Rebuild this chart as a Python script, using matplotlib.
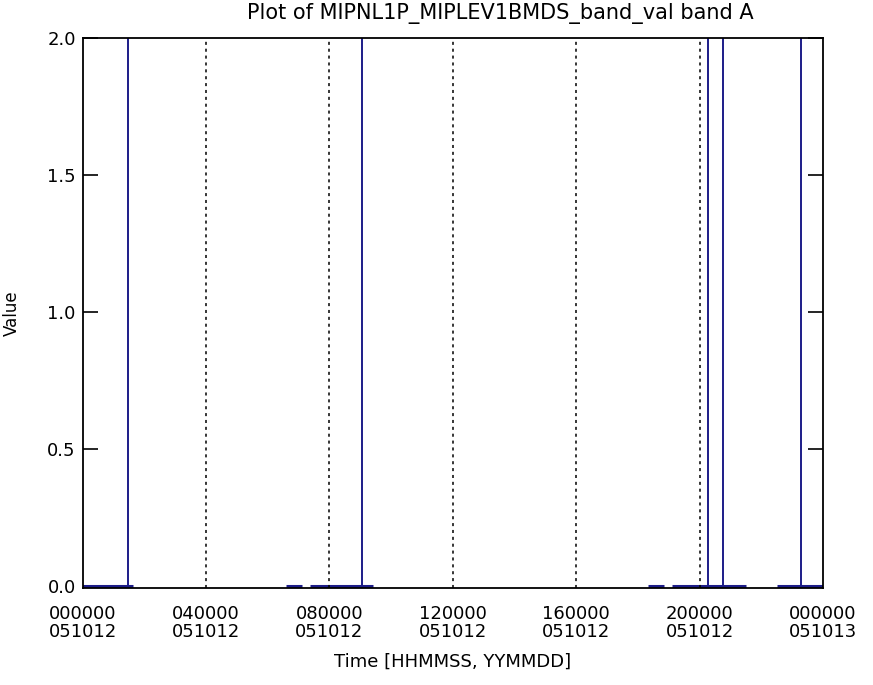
import numpy as np
import matplotlib
matplotlib.use('Agg')
import matplotlib.pyplot as plt

# Time axis in hours since 2005-10-12 00:00
tick_hours = [0, 4, 8, 12, 16, 20, 24]
tick_labels = ['000000\n051012', '040000\n051012', '080000\n051012', '120000\n051012',
               '160000\n051012', '200000\n051012', '000000\n051013']
grid_hours = [4, 8, 12, 16, 20]

# Stretches of data (all values close to 0)
seg_start = [0.0, 6.6, 7.36, 18.33, 19.1, 22.5]
seg_end = [1.64, 7.1, 9.4, 18.84, 21.5, 24.0]
seg_value = [0.0, 0.0, 0.0, 0.0, 0.0, 0.0]

# Single samples that shoot off the top of the plot
spike_hours = [1.48, 9.04, 20.27, 20.76, 23.30]
spike_value = [5.0, 5.0, 5.0, 5.0, 5.0]

line_color = '#1c1c88'

fig = plt.figure(figsize=(8.73, 6.85), dpi=100)
ax = fig.add_axes([0.0947, 0.1416, 0.848, 0.8025])

ax.hlines(seg_value, seg_start, seg_end, color=line_color, lw=2.2)
ax.vlines(spike_hours, 0, spike_value, color=line_color, lw=1.4)

for h in grid_hours:
    ax.axvline(h, color='black', lw=1.1, linestyle=(0, (2, 2.5)))

ax.set_xlim(0, 24)
ax.set_ylim(-0.008, 2.0)
ax.set_xticks(tick_hours)
ax.set_xticklabels(tick_labels, fontsize=13, linespacing=1.0)
ax.set_yticks([0.0, 0.5, 1.0, 1.5, 2.0])
ax.set_yticklabels(['0.0', '0.5', '1.0', '1.5', '2.0'], fontsize=13)
ax.tick_params(axis='y', direction='in', length=11, width=1.2, right=True, pad=5)
ax.tick_params(axis='x', length=0, pad=12)
for s in ax.spines.values():
    s.set_linewidth(1.3)

ax.set_xlabel('Time [HHMMSS, YYMMDD]', fontsize=13, labelpad=9)
ax.set_ylabel('Value', fontsize=12)
ax.yaxis.set_label_coords(-0.083, 0.5)
fig.text(0.573, 1 - 3 / 685, 'Plot of MIPNL1P_MIPLEV1BMDS_band_val band A',
         fontsize=15, ha='center', va='top')

fig.savefig('out.png', dpi=100)
